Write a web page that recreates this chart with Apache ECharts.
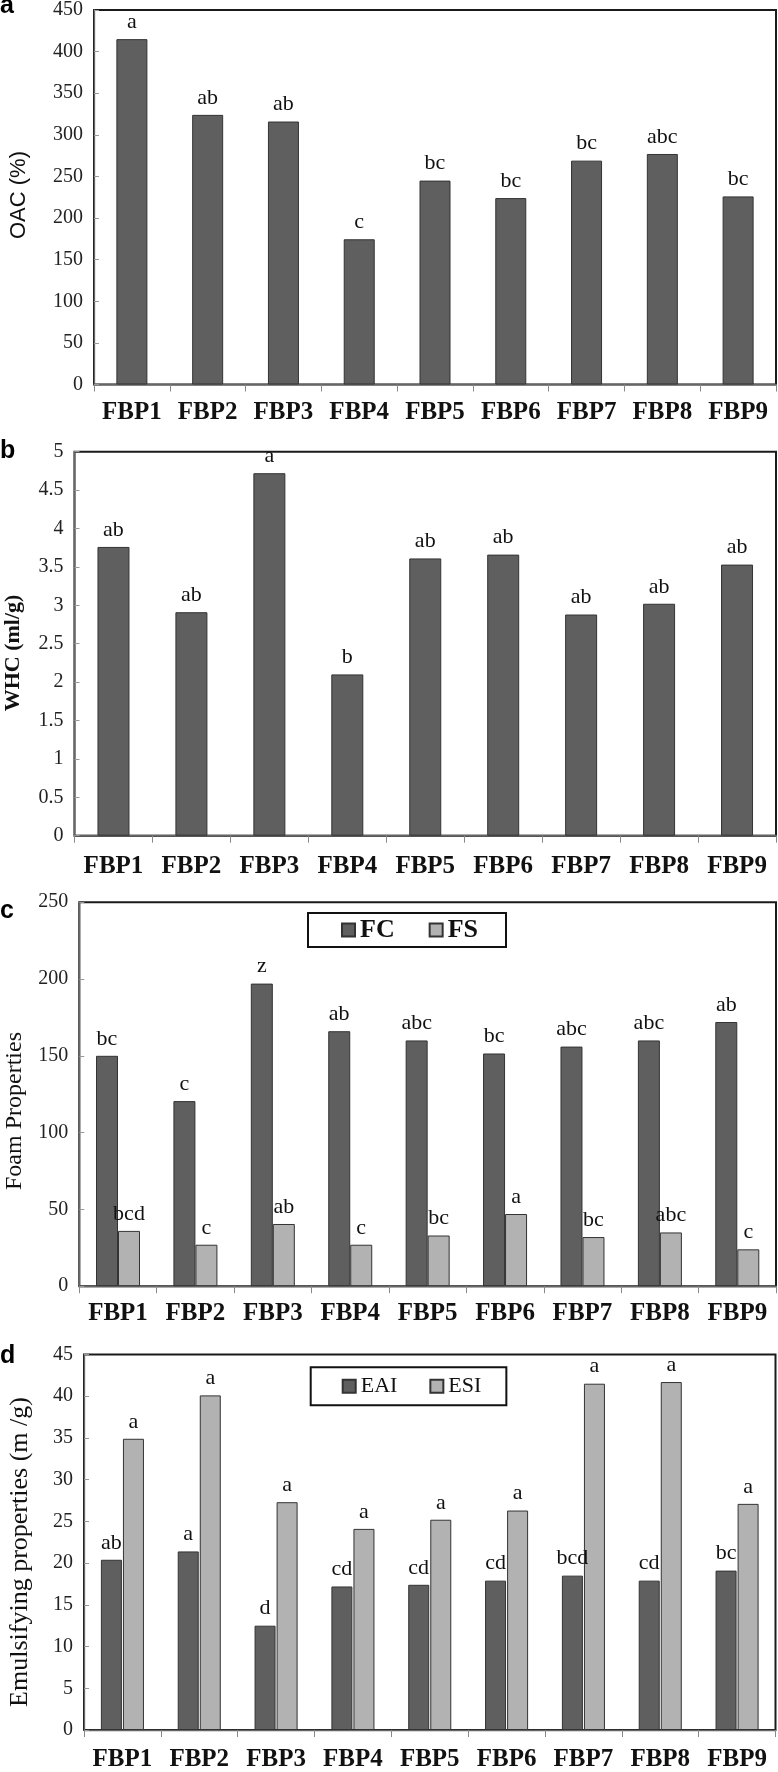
<!DOCTYPE html>
<html>
<head>
<meta charset="utf-8">
<script src="https://cdn.jsdelivr.net/npm/echarts@6/dist/echarts.min.js"></script>
<style>
html, body { margin: 0; padding: 0; background: #fff; }
#main { width: 778px; height: 1772px; }
</style>
</head>
<body>
<div id="main"></div>
<script>
var categories = ['FBP1', 'FBP2', 'FBP3', 'FBP4', 'FBP5', 'FBP6', 'FBP7', 'FBP8', 'FBP9'];

// a - OAC (%)
var oacValues = [415, 324, 316, 174.5, 245, 224, 269, 277, 226];
var oacLetters = ['a', 'ab', 'ab', 'c', 'bc', 'bc', 'bc', 'abc', 'bc'];
var oacAxis = [0, 450, 50]; // min, max, interval

// b - WHC (ml/g)
var whcValues = [3.76, 2.91, 4.72, 2.10, 3.61, 3.66, 2.88, 3.02, 3.53];
var whcLetters = ['ab', 'ab', 'a', 'b', 'ab', 'ab', 'ab', 'ab', 'ab'];
var whcAxis = [0, 5, 0.5];

// c - foam properties
var fcValues = [150, 120.5, 197, 166, 160, 151.5, 156, 160, 172];
var fcLetters = ['bc', 'c', 'z', 'ab', 'abc', 'bc', 'abc', 'abc', 'ab'];
var fsValues = [36, 27, 40.5, 27, 33, 47, 32, 35, 24];
var fsLetters = ['bcd', 'c', 'ab', 'c', 'bc', 'a', 'bc', 'abc', 'c'];
var foamAxis = [0, 250, 50];

// d - emulsifying properties
var eaiValues = [20.4, 21.4, 12.5, 17.2, 17.4, 17.9, 18.5, 17.9, 19.1];
var eaiLetters = ['ab', 'a', 'd', 'cd', 'cd', 'cd', 'bcd', 'cd', 'bc'];
var esiValues = [34.9, 40.1, 27.3, 24.1, 25.2, 26.3, 41.5, 41.7, 27.1];
var esiLetters = ['a', 'a', 'a', 'a', 'a', 'a', 'a', 'a', 'a'];
var emulAxis = [0, 45, 5];

var serif = '"Liberation Serif", "Times New Roman", serif';
var sans = '"Liberation Sans", Arial, sans-serif';
var darkBar = '#5f5f5f';
var lightBar = '#b2b2b2';
var barBorder = '#333';

var myChart = echarts.init(document.getElementById('main'));

function xAxisFor(idx, margin) {
  return {
    type: 'category',
    gridIndex: idx,
    data: categories,
    axisLine: { lineStyle: { color: '#666', width: 1.3 } },
    axisTick: { show: true, length: 7, lineStyle: { color: '#888' } },
    axisLabel: {
      interval: 0,
      hideOverlap: false,
      color: '#111',
      fontFamily: serif,
      fontWeight: 'bold',
      fontSize: 25,
      margin: margin
    }
  };
}

function yAxisFor(idx, range) {
  return {
    type: 'value',
    gridIndex: idx,
    min: range[0],
    max: range[1],
    interval: range[2],
    axisLine: { show: true, lineStyle: { color: '#666', width: 1.3 } },
    axisTick: { show: true, inside: true, length: 5, lineStyle: { color: '#999' } },
    axisLabel: { color: '#222', fontFamily: serif, fontSize: 20, margin: 11 },
    splitLine: { show: false }
  };
}

function letterLabel(letters) {
  return {
    show: true,
    position: 'top',
    distance: 6,
    color: '#111',
    fontFamily: serif,
    fontSize: 22,
    formatter: function (p) { return letters[p.dataIndex]; }
  };
}

function barSeries(name, idx, values, letters, color, width, gap) {
  var s = {
    type: 'bar',
    name: name,
    xAxisIndex: idx,
    yAxisIndex: idx,
    data: values,
    barWidth: width,
    itemStyle: { color: color, borderColor: barBorder, borderWidth: 1 },
    label: letterLabel(letters)
  };
  if (gap !== undefined) s.barGap = gap;
  return s;
}

var gridBox = { show: true, borderColor: '#1a1a1a', borderWidth: 2, containLabel: false };

myChart.setOption({
  backgroundColor: '#fff',
  animation: false,
  grid: [
    Object.assign({ left: 94, top: 7.5, right: 2, height: 377 }, gridBox),
    Object.assign({ left: 74.5, top: 451.7, right: 2, height: 384 }, gridBox),
    Object.assign({ left: 79.3, top: 902.2, right: 2, height: 384 }, gridBox),
    Object.assign({ left: 84, top: 1354.5, right: 2.5, height: 376 }, gridBox)
  ],
  xAxis: [xAxisFor(0, 16), xAxisFor(1, 18), xAxisFor(2, 15), xAxisFor(3, 17)],
  yAxis: [yAxisFor(0, oacAxis), yAxisFor(1, whcAxis), yAxisFor(2, foamAxis), yAxisFor(3, emulAxis)],
  legend: [
    {
      data: ['FC', 'FS'],
      left: 308,
      top: 913,
      orient: 'horizontal',
      icon: 'rect',
      itemWidth: 13,
      itemHeight: 13,
      itemGap: 34,
      padding: [4, 28, 4, 33],
      borderColor: '#111',
      borderWidth: 2,
      backgroundColor: '#fff',
      selectedMode: false,
      textStyle: { color: '#111', fontFamily: serif, fontWeight: 'bold', fontSize: 26 }
    },
    {
      data: ['EAI', 'ESI'],
      left: 310.7,
      top: 1367.3,
      orient: 'horizontal',
      icon: 'rect',
      itemWidth: 13,
      itemHeight: 13,
      itemGap: 32,
      padding: [8, 25, 8, 31],
      borderColor: '#111',
      borderWidth: 2,
      backgroundColor: '#fff',
      selectedMode: false,
      textStyle: { color: '#111', fontFamily: serif, fontSize: 22 }
    }
  ],
  graphic: [
    // panel letters
    { type: 'text', x: 0, y: 6, style: { text: 'a', font: 'bold 25px ' + sans, fill: '#000', textVerticalAlign: 'middle' } },
    { type: 'text', x: 0, y: 451, style: { text: 'b', font: 'bold 25px ' + sans, fill: '#000', textVerticalAlign: 'middle' } },
    { type: 'text', x: 0, y: 911, style: { text: 'c', font: 'bold 25px ' + sans, fill: '#000', textVerticalAlign: 'middle' } },
    { type: 'text', x: 0, y: 1356, style: { text: 'd', font: 'bold 25px ' + sans, fill: '#000', textVerticalAlign: 'middle' } },
    // y axis titles
    { type: 'text', x: 19, y: 195, rotation: Math.PI / 2,
      style: { text: 'OAC (%)', font: '22px ' + sans, fill: '#111', textAlign: 'center', textVerticalAlign: 'middle' } },
    { type: 'text', x: 13, y: 653, rotation: Math.PI / 2,
      style: { text: 'WHC (ml/g)', font: 'bold 22px ' + serif, fill: '#111', textAlign: 'center', textVerticalAlign: 'middle' } },
    { type: 'text', x: 15, y: 1111, rotation: Math.PI / 2,
      style: { text: 'Foam Properties', font: '24px ' + serif, fill: '#111', textAlign: 'center', textVerticalAlign: 'middle' } },
    { type: 'text', x: 20, y: 1552, rotation: Math.PI / 2,
      style: { text: 'Emulsifying properties (m /g)', font: '26px ' + serif, fill: '#111', textAlign: 'center', textVerticalAlign: 'middle' } }
  ],
  series: [
    barSeries('OAC', 0, oacValues, oacLetters, darkBar, 31),
    barSeries('WHC', 1, whcValues, whcLetters, darkBar, 32),
    barSeries('FC', 2, fcValues, fcLetters, darkBar, 22, '0%'),
    barSeries('FS', 2, fsValues, fsLetters, lightBar, 22, '0%'),
    barSeries('EAI', 3, eaiValues, eaiLetters, darkBar, 21, '5%'),
    barSeries('ESI', 3, esiValues, esiLetters, lightBar, 21, '5%')
  ]
});
</script>
</body>
</html>
